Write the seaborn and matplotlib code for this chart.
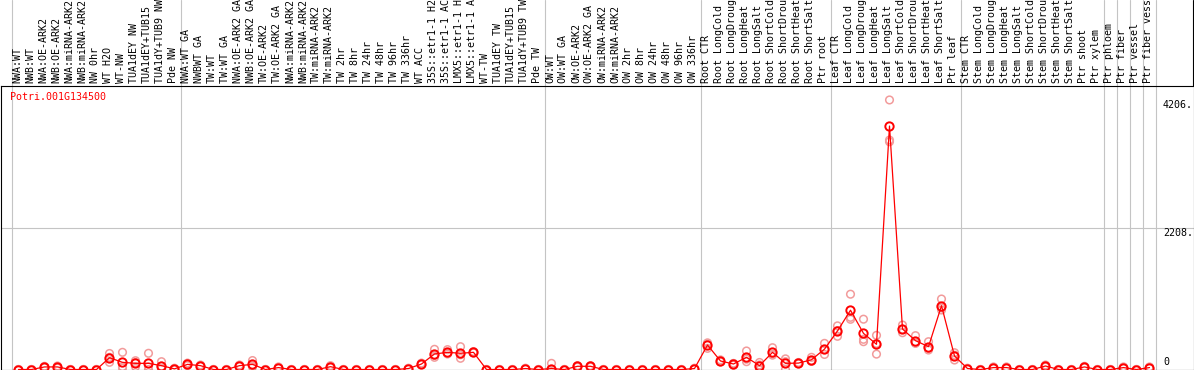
import numpy as np
import pandas as pd
import matplotlib
matplotlib.use("Agg")
import matplotlib.pyplot as plt
import matplotlib.transforms as mtransforms
import seaborn as sns

gene = "Potri.001G134500"

samples = [
    "NWA:WT", "NWB:WT", "NWA:OE-ARK2", "NWB:OE-ARK2", "NWA:miRNA-ARK2",
    "NWB:miRNA-ARK2", "NW 0hr", "WT H2O", "WT-NW", "TUA1dEY NW",
    "TUA1dEY+TUB15", "TUA1dY+TUB9 NW", "Pde NW",
    "NWA:WT GA", "NWBWT GA", "TW:WT", "TW:WT GA", "NWA:OE-ARK2 GA",
    "NWB:OE-ARK2 GA", "TW:OE-ARK2", "TW:OE-ARK2 GA", "NWA:miRNA-ARK2",
    "NWB:miRNA-ARK2", "TW:miRNA-ARK2", "TW:miRNA-ARK2", "TW 2hr", "TW 8hr",
    "TW 24hr", "TW 48hr", "TW 96hr", "TW 336hr", "WT ACC", "35S::etr1-1 H2",
    "35S::etr1-1 AC", "LMX5::etr1-1 H", "LMX5::etr1-1 A", "WT-TW",
    "TUA1dEY TW", "TUA1dEY+TUB15", "TUA1dY+TUB9 TW", "Pde TW",
    "OW:WT", "OW:WT GA", "OW:OE-ARK2", "OW:OE-ARK2 GA", "OW:miRNA-ARK2",
    "OW:miRNA-ARK2", "OW 2hr", "OW 8hr", "OW 24hr", "OW 48hr", "OW 96hr",
    "OW 336hr",
    "Root CTR", "Root LongCold", "Root LongDroug", "Root LongHeat",
    "Root LongSalt", "Root ShortCold", "Root ShortDrou", "Root ShortHeat",
    "Root ShortSalt", "Ptr root",
    "Leaf CTR", "Leaf LongCold", "Leaf LongDroug", "Leaf LongHeat",
    "Leaf LongSalt", "Leaf ShortCold", "Leaf ShortDrou", "Leaf ShortHeat",
    "Leaf ShortSalt", "Ptr leaf",
    "Stem CTR", "Stem LongCold", "Stem LongDroug", "Stem LongHeat",
    "Stem LongSalt", "Stem ShortCold", "Stem ShortDrou", "Stem ShortHeat",
    "Stem ShortSalt", "Ptr shoot", "Ptr xylem",
    "Ptr phloem", "Ptr fiber", "Ptr vessel", "Ptr fiber vess",
]

means = [
    0, 0, 40, 40, 0, 0, 0, 184, 112, 96,
    96, 60, 10, 80, 60, 0, 0, 60, 80, 0,
    30, 0, 0, 0, 44, 0, 0, 0, 0, 0,
    15, 86, 242, 268, 253, 268, 0, 0, 0, 15,
    0, 15, 0, 50, 50, 0, 0, 0, 0, 0,
    0, 0, 15, 382, 133, 86, 190, 60, 268, 96,
    100, 152, 318, 602, 925, 564, 393, 3799, 632, 450,
    356, 996, 211, 15, 0, 30, 30, 0, 0, 55,
    0, 0, 40, 0, 0, 30, 0, 30,
]

rep1 = [
    0, 0, 50, 55, 0, 0, 0, 190, 268, 137,
    253, 122, 20, 100, 70, 0, 0, 70, 140, 0,
    40, 0, 0, 0, 60, 0, 0, 0, 0, 0,
    20, 100, 315, 310, 356, 280, 0, 0, 0, 20,
    0, 96, 0, 60, 60, 0, 0, 0, 0, 0,
    0, 0, 20, 400, 150, 95, 289, 70, 340, 122,
    110, 190, 408, 681, 1175, 785, 533, 4206, 694, 528,
    434, 1100, 262, 20, 0, 40, 40, 0, 0, 70,
    0, 0, 50, 0, 0, 40, 0, 40,
]

rep2 = [
    0, 0, 30, 25, 0, 0, 0, 112, 44, 44,
    44, 50, 0, 60, 50, 0, 0, 50, 60, 0,
    20, 0, 0, 0, 30, 0, 0, 0, 0, 0,
    10, 80, 190, 242, 175, 260, 0, 0, 0, 10,
    0, 0, 0, 40, 40, 0, 0, 0, 0, 0,
    0, 0, 10, 330, 120, 70, 122, 0, 240, 0,
    90, 140, 235, 518, 783, 434, 240, 3554, 574, 408,
    330, 928, 148, 10, 0, 20, 20, 0, 0, 40,
    0, 0, 30, 0, 0, 20, 0, 20,
]

rep3 = [
    0, 0, 40, 40, 0, 0, 0, 250, 24, 107,
    0, 10, 10, 80, 60, 0, 0, 60, 40, 0,
    30, 0, 0, 0, 44, 0, 0, 0, 0, 0,
    15, 80, 220, 252, 230, 265, 0, 0, 0, 15,
    0, 0, 0, 50, 50, 0, 0, 0, 0, 0,
    0, 0, 15, 416, 130, 93, 160, 110, 224, 166,
    100, 126, 311, 607, 814, 471, 406, 3580, 628, 414,
    304, 960, 223, 15, 0, 30, 30, 0, 0, 55,
    0, 0, 40, 0, 0, 30, 0, 30,
]

# separators sit after these column numbers
group_ends = [0, 13, 41, 53, 63, 73, 84, 85, 86, 87, 88]

ytick_vals = [0, 2208, 4206]
ytick_text = ["0", "2208.", "4206."]

# ---- layout (pixels) ----
W, H = 1194, 370
left_px, right_px, top_px, bot_px = 0.5, 1193.5, 85.5, 369.5
col1_px, step_px = 18.5, 13.0
grid_px = 228.0  # pixel row of the 2208 line

sns.set_style("white")
plt.rcParams["font.family"] = ["DejaVu Sans Mono"]

fig = plt.figure(figsize=(W / 100, H / 100), dpi=100)
ax = fig.add_axes([left_px / W, 1 - bot_px / H,
                   (right_px - left_px) / W, (bot_px - top_px) / H])

ax.set_xlim((left_px - col1_px) / step_px + 1, (right_px - col1_px) / step_px + 1)
units_per_px = ytick_vals[1] / (bot_px - grid_px)
ax.set_ylim(0, (bot_px - top_px) * units_per_px)

cols = np.arange(1, len(samples) + 1)
df = pd.DataFrame({"col": cols, "mean": means})
reps = pd.DataFrame({"col": np.tile(cols, 3), "value": rep1 + rep2 + rep3})

# separators and grid
ext = bot_px / (bot_px - top_px)
for g in group_ends:
    ax.axvline(g + 0.5, ymin=0, ymax=ext, color="#c4c4c4", lw=0.8,
               clip_on=False, zorder=1)
ax.axhline(ytick_vals[1], color="#c4c4c4", lw=0.8, zorder=1)

sns.scatterplot(data=reps, x="col", y="value", marker="o", s=30,
                facecolor="none", edgecolor="#f29b9b", linewidth=1.1,
                ax=ax, zorder=2, legend=False)
sns.lineplot(data=df, x="col", y="mean", color="red", lw=0.9, marker="o",
             ms=6, mfc="none", mec="red", mew=1.4, ax=ax, zorder=3)

ax.set_xlabel("")
ax.set_ylabel("")
ax.set_xticks([])
ax.set_yticks([])
for s in ax.spines.values():
    s.set_color("black")
    s.set_linewidth(0.8)
ax.axvline(ax.get_xlim()[1], ymin=1, ymax=ext, color="black", lw=0.8,
           clip_on=False, zorder=4)

# sample labels in the header
hdr = mtransforms.offset_copy(
    mtransforms.blended_transform_factory(ax.transData, ax.transAxes),
    fig=fig, y=2.5, units="dots")
for c, lab in zip(cols, samples):
    ax.text(c - 0.1, 1, lab, transform=hdr, rotation=90, ha="center",
            va="bottom", fontsize=7.2, color="black", clip_on=False)

# value labels on the right
ylab = mtransforms.blended_transform_factory(fig.transFigure, ax.transData)
for v, t in zip(ytick_vals, ytick_text):
    dy = 7.5 if v == 0 else -5
    tr = mtransforms.offset_copy(ylab, fig=fig, y=dy, units="dots")
    ax.text(1163 / W, v, t, transform=tr, ha="left", va="center",
            fontsize=7.2, color="black", clip_on=False)

fig.text(10 / W, 1 - 97 / H, gene, color="red", fontsize=7.2,
         ha="left", va="center")

fig.savefig("out.png", dpi=100)
